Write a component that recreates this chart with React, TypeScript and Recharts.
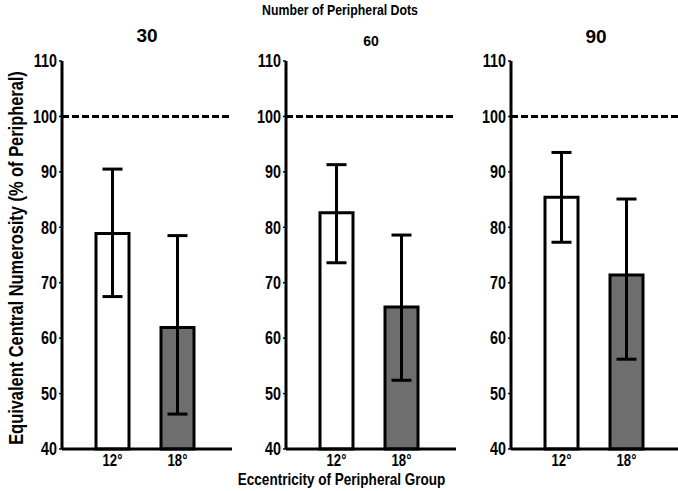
import React from "react";
import {
  BarChart,
  Bar,
  Cell,
  XAxis,
  YAxis,
  ErrorBar,
  ReferenceLine,
} from "recharts";

const panelTitles = ["30", "60", "90"];
const eccentricities = ["12°", "18°"];
const meanValues = [
  [78.9, 61.9],
  [82.6, 65.6],
  [85.4, 71.4],
];
const upperValues = [
  [90.5, 78.5],
  [91.3, 78.6],
  [93.5, 85.1],
];
const lowerValues = [
  [67.5, 46.3],
  [73.6, 52.4],
  [77.3, 56.2],
];
const yTicks = [40, 50, 60, 70, 80, 90, 100, 110];
const barFills = ["#ffffff", "#6e6e6e"];

const FONT = "'Liberation Sans', Arial, sans-serif";
const NARROW = 0.82; // the original uses a condensed bold face

// chart left edge, title size, title y for each panel
const panelLayout = [
  { left: 22, titleSize: 19, titleY: 36 },
  { left: 246, titleSize: 14, titleY: 41 },
  { left: 471, titleSize: 19, titleY: 37 },
];

function NarrowTick(props: any) {
  const { x, y, payload, textAnchor, vertical } = props;
  return (
    <g transform={`translate(${x},${y})`}>
      <text
        transform={`scale(${NARROW},1)`}
        textAnchor={textAnchor}
        dy={vertical ? "0.36em" : "0.72em"}
        fill="#000"
        fontFamily={FONT}
        fontWeight="bold"
        fontSize={vertical ? 17.5 : 16}
      >
        {payload.value}
      </text>
    </g>
  );
}

function Narrow({ children }: { children: React.ReactNode }) {
  return (
    <span style={{ display: "inline-block", transform: `scaleX(${NARROW})`, whiteSpace: "nowrap" }}>
      {children}
    </span>
  );
}

function Panel({ index }: { index: number }) {
  const data = eccentricities.map((ecc, i) => ({
    ecc,
    mean: meanValues[index][i],
    err: [
      meanValues[index][i] - lowerValues[index][i],
      upperValues[index][i] - meanValues[index][i],
    ],
  }));
  const { left, titleSize, titleY } = panelLayout[index];

  return (
    <div style={{ position: "absolute", left, top: 0 }}>
      <div
        style={{
          position: "absolute",
          left: 40,
          width: 170,
          top: titleY - titleSize * 0.6,
          textAlign: "center",
          fontWeight: "bold",
          fontSize: titleSize,
          lineHeight: `${titleSize * 1.2}px`,
        }}
      >
        {panelTitles[index]}
      </div>
      <BarChart
        width={210}
        height={491}
        data={data}
        margin={{ top: 61, right: 0, bottom: 12, left: 0 }}
      >
        <XAxis
          dataKey="ecc"
          height={30}
          padding={{ left: 18, right: 22 }}
          axisLine={{ stroke: "#000", strokeWidth: 3 }}
          tickLine={false}
          tickSize={3}
          tick={<NarrowTick />}
        />
        <YAxis
          width={40}
          domain={[40, 110]}
          ticks={yTicks}
          interval={0}
          tickSize={3}
          axisLine={{ stroke: "#000", strokeWidth: 3 }}
          tickLine={{ stroke: "#000", strokeWidth: 1.5 }}
          tick={<NarrowTick vertical />}
        />
        <ReferenceLine
          y={100}
          stroke="#000"
          strokeWidth={3}
          strokeDasharray="7 3"
        />
        <Bar
          dataKey="mean"
          barSize={33}
          stroke="#000"
          strokeWidth={3}
          isAnimationActive={false}
        >
          {data.map((d, i) => (
            <Cell key={d.ecc} fill={barFills[i]} />
          ))}
          <ErrorBar
            dataKey="err"
            width={10}
            stroke="#000"
            strokeWidth={3}
            isAnimationActive={false}
          />
        </Bar>
      </BarChart>
    </div>
  );
}

export default function App() {
  return (
    <div
      style={{
        position: "absolute",
        left: 0,
        top: 0,
        width: 678,
        height: 491,
        overflow: "hidden",
        background: "#fff",
        fontFamily: FONT,
      }}
    >
      <div
        style={{
          position: "absolute",
          left: 0,
          width: 680,
          top: 1,
          textAlign: "center",
          fontWeight: "bold",
          fontSize: 15,
        }}
      >
        <Narrow>Number of Peripheral Dots</Narrow>
      </div>
      {panelTitles.map((t, i) => (
        <Panel key={t} index={i} />
      ))}
      <div
        style={{
          position: "absolute",
          left: 16,
          top: 258,
          transform: `translate(-50%, -50%) rotate(-90deg) scaleX(${NARROW})`,
          whiteSpace: "nowrap",
          fontWeight: "bold",
          fontSize: 20,
        }}
      >
        Equivalent Central Numerosity (% of Peripheral)
      </div>
      <div
        style={{
          position: "absolute",
          left: 0,
          width: 684,
          top: 472,
          textAlign: "center",
          fontWeight: "bold",
          fontSize: 16.5,
          lineHeight: "15px",
        }}
      >
        <Narrow>Eccentricity of Peripheral Group</Narrow>
      </div>
    </div>
  );
}
